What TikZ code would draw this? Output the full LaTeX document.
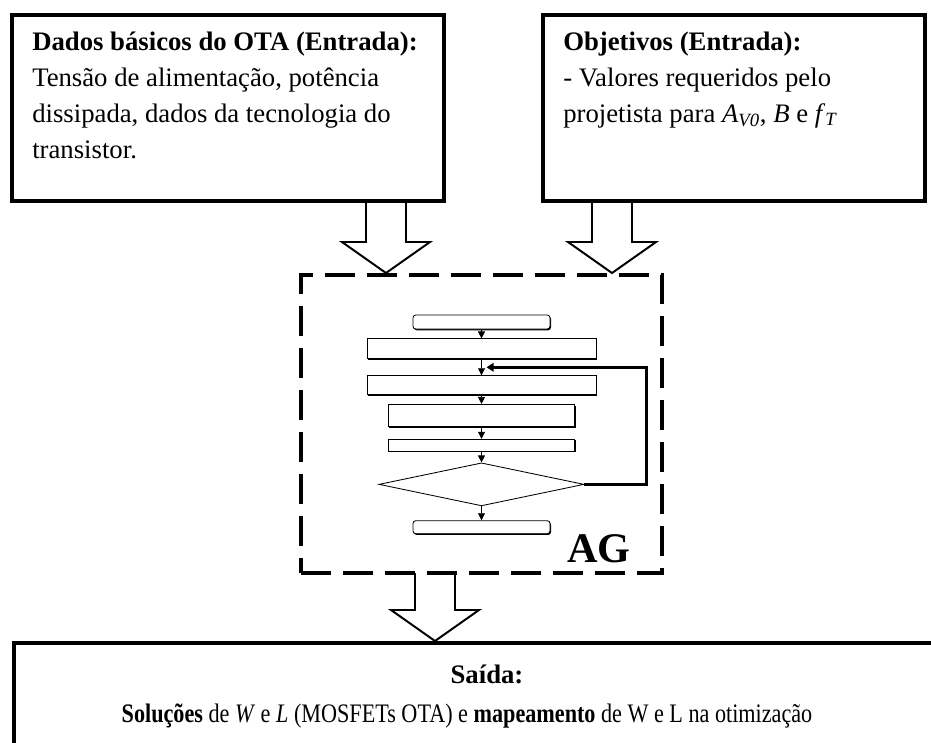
\documentclass[tikz,border=0pt]{standalone}
\usepackage{fontspec}
\setmainfont{Liberation Serif}
\usetikzlibrary{positioning,shapes.geometric,arrows.meta,shadows,calc}

\tikzset{
    outbox/.style={
        draw,
        line width=2.8pt
    },
    txtblock/.style={
        align=left,
        inner sep=0pt,
        font=\fontsize{19}{25.6}\selectfont
    },
    blockarrow/.style={
        line width=1.4pt,
        line join=miter
    },
    agframe/.style={
        draw,
        line width=2.8pt,
        dash pattern=on 0.75cm off 0.3cm
    },
    flowbox/.style={
        draw,
        fill=white,
        line width=0.6pt,
        inner sep=0pt,
        drop shadow={shadow xshift=0.7pt, shadow yshift=-0.9pt, opacity=1, fill=black}
    },
    flowarrow/.style={
        -{Triangle[width=5pt,length=5pt]},
        line width=0.6pt
    },
    loopline/.style={
        -{Triangle[width=6pt,length=5pt]},
        line width=2pt
    }
}

% hollow block arrow: top point, shaft length
\newcommand{\hollowarrow}[2]{%
    \draw[blockarrow] (#1) ++(-20,0) -- ++(0,#2) -- ++(-24,0) -- ++(44,31) -- ++(44,-31) -- ++(-24,0) -- ++(0,-#2);}

\begin{document}
\begin{tikzpicture}[x=0.025cm, y=-0.025cm]
    \clip (0,0) rectangle (931,742);

    % Entradas (base = last line)
    \node[outbox, minimum width=10.79cm, minimum height=4.65cm] (dados) at (227.75,108) {};
    \node[txtblock, anchor=base west] (dadostxt) at (32,158)
        {\textbf{Dados básicos do OTA (Entrada):}\\
         Tensão de alimentação, potência\\
         dissipada, dados da tecnologia do\\
         transistor.};
    \node[outbox, minimum width=9.525cm, minimum height=4.65cm] (obj) at (734,108) {};
    \node[txtblock, anchor=base west] (objtxt) at (563,122)
        {\textbf{Objetivos (Entrada):}\\
         - Valores requeridos pelo\\
         projetista para \textit{A}\textsubscript{\textit{V0}}, \textit{B} e \textit{f}\textsubscript{\textit{T}}};

    % AG
    \node[agframe, minimum width=9.025cm, minimum height=7.44cm] (ag) at (481.5,424.25) {};
    \node[font=\bfseries\fontsize{30}{30}\selectfont] (agtxt) at (599,549) {AG};

    \coordinate (in1) at (386,201);
    \coordinate (in2) at (612,201);
    \coordinate (out) at (435,573);
    \hollowarrow{in1}{41}
    \hollowarrow{in2}{41}
    \hollowarrow{out}{37}

    % fluxo interno
    \node[flowbox, rounded corners=2pt, minimum width=3.425cm, minimum height=0.35cm] (b1) at (481.5,322) {};
    \node[flowbox, minimum width=5.725cm, minimum height=0.5cm, below=0.225cm of b1] (b2) {};
    \node[flowbox, minimum width=5.725cm, minimum height=0.475cm, below=0.4cm of b2] (b3) {};
    \node[flowbox, minimum width=4.65cm, minimum height=0.55cm, below=0.22cm of b3] (b4) {};
    \node[flowbox, minimum width=4.65cm, minimum height=0.3cm, below=0.3cm of b4] (b5) {};
    \node[draw, diamond, line width=0.6pt, inner sep=0pt, minimum width=5.125cm, minimum height=1.075cm, below=0.27cm of b5] (dia) {};
    \node[flowbox, rounded corners=2pt, minimum width=3.425cm, minimum height=0.325cm, below=0.35cm of dia] (b6) {};

    \draw[flowarrow] (b1) -- (b2);
    \draw[flowarrow] (b2) -- (b3);
    \draw[flowarrow] (b3) -- (b4);
    \draw[flowarrow] (b4) -- (b5);
    \draw[flowarrow] (b5) -- (dia);
    \draw[flowarrow] (dia) -- (b6);
    \coordinate (merge) at ($(b2.south)!0.5!(b3.north)+(5,0)$);
    \draw[loopline] (dia.east) -- ++(62,0) |- (merge);

    % Saida
    \node[outbox, anchor=north west, minimum width=24cm, minimum height=4cm] (saida) at (12,641) {};
    \node[txtblock, anchor=base] (saidatit) at (487,683) {\textbf{Saída:}};
    \node[txtblock, anchor=base] (saidatxt) at (467,722)
        {\scalebox{0.83}[1]{\textbf{Soluções} de \textit{W} e \textit{L} (MOSFETs OTA) e \textbf{mapeamento} de W e L na otimização}};
\end{tikzpicture}
\end{document}
